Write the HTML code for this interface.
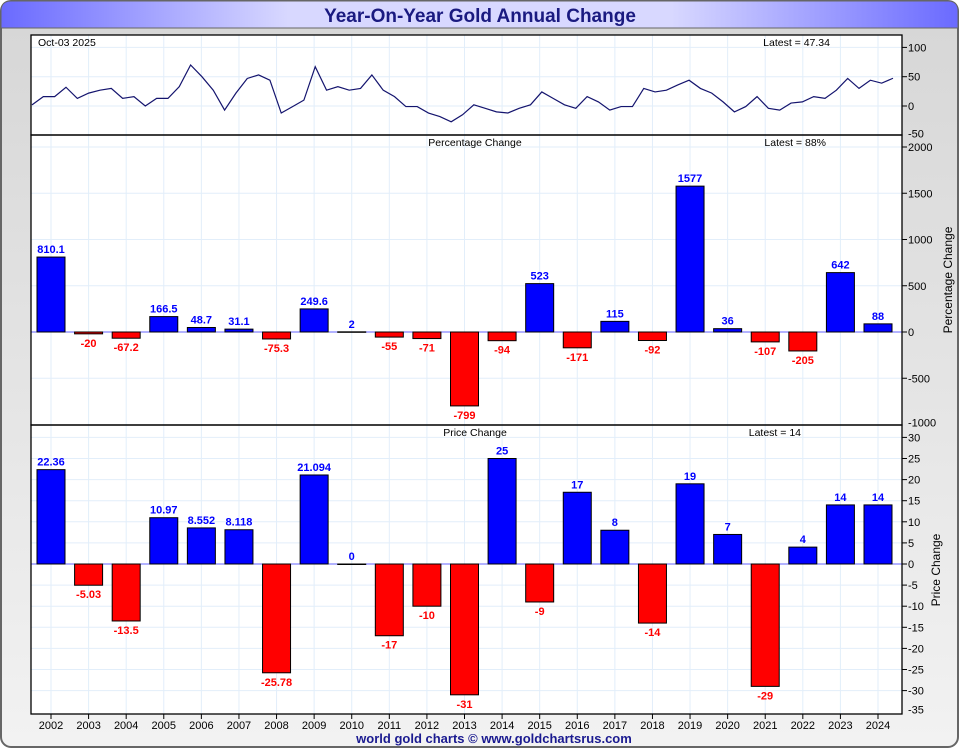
<!DOCTYPE html>
<html><head><meta charset="utf-8"><style>
body{margin:0;width:960px;height:750px;overflow:hidden;background:#fff;font-family:"Liberation Sans",sans-serif}
</style></head><body>
<svg id="c" width="960" height="750" xmlns="http://www.w3.org/2000/svg" font-family="Liberation Sans, sans-serif">
<defs><linearGradient id="tg" x1="0" x2="1"><stop offset="0" stop-color="#6a6aff"/><stop offset="0.3" stop-color="#d8d8ff"/><stop offset="0.7" stop-color="#d8d8ff"/><stop offset="1" stop-color="#6a6aff"/></linearGradient>
<linearGradient id="bg" x1="0" y1="0" x2="0" y2="1"><stop offset="0" stop-color="#d6d6d6"/><stop offset="1" stop-color="#f2f2f2"/></linearGradient></defs>
<rect x="1" y="1" width="957" height="746" rx="10" fill="url(#bg)" stroke="#666" stroke-width="2"/>
<path d="M1,28 L1,11 Q1,1 11,1 L948,1 Q958,1 958,11 L958,28 Z" fill="url(#tg)" stroke="#666"/>
<text x="480" y="22" text-anchor="middle" font-size="19" font-weight="bold" fill="#1a1a80">Year-On-Year Gold Annual Change</text>
<g id="g"></g>
<text x="494" y="743" text-anchor="middle" font-size="13" font-weight="bold" fill="#1a1a90">world gold charts © www.goldchartsrus.com</text>
</svg>
<script>
const years=["2002","2003","2004","2005","2006","2007","2008","2009","2010","2011","2012","2013","2014","2015","2016","2017","2018","2019","2020","2021","2022","2023","2024"];
const pctValues=[810.1,-20,-67.2,166.5,48.7,31.1,-75.3,249.6,2,-55,-71,-799,-94,523,-171,115,-92,1577,36,-107,-205,642,88];
const pctLabels=["810.1","-20","-67.2","166.5","48.7","31.1","-75.3","249.6","2","-55","-71","-799","-94","523","-171","115","-92","1577","36","-107","-205","642","88"];
const priceValues=[22.36,-5.03,-13.5,10.97,8.552,8.118,-25.78,21.094,0,-17,-10,-31,25,-9,17,8,-14,19,7,-29,4,14,14];
const priceLabels=["22.36","-5.03","-13.5","10.97","8.552","8.118","-25.78","21.094","0","-17","-10","-31","25","-9","17","8","-14","19","7","-29","4","14","14"];
const lineValues=[2,16,16,32,13,22,27,30,13,16,0,13,13,33,70,50,27,-7,22,47,53,44,-12,-1,10,67,27,33,27,30,53,27,16,-1,-1,-12,-18,-27,-15,2,-4,-10,-12,-4,2,24,13,2,-4,16,7,-7,-1,-1,30,24,27,36,44,30,22,7,-10,-1,16,-4,-7,5,7,16,13,27,47,30,44,39,47.34];
const topTicks=[100,50,0];
const pctTicks=[2000,1500,1000,500,0,-500];
const priceTicks=[30,25,20,15,10,5,0,-5,-10,-15,-20,-25,-30];

const NS="http://www.w3.org/2000/svg";
const g=document.getElementById('g');
function el(t,a,txt){const e=document.createElementNS(NS,t);for(const k in a)e.setAttribute(k,a[k]);if(txt!==undefined)e.textContent=txt;g.appendChild(e);return e;}
const X0=31,X1=902;
const xc=i=>51+i*(878-51)/(years.length-1);
const yTop=v=>106-v*29.3/50;
const yPct=v=>332-v*185/2000;
const yPrice=v=>564-v*21.1/5;

[[35,135,'top-panel'],[135,425,'percentage-panel'],[425,714,'price-panel']].forEach(p=>{
 const r=el('rect',{x:X0,y:p[0],width:X1-X0,height:p[1]-p[0],fill:'#fff'});
 
 
});
years.forEach((y,i)=>{
 const l=el('line',{x1:xc(i),x2:xc(i),y1:35,y2:714,stroke:'#e2eefa','stroke-width':1});
 
 
});
function hgrid(ticks,f,nm){ticks.forEach(t=>{
 const l=el('line',{x1:X0,x2:X1,y1:f(t),y2:f(t),stroke:'#e2eefa'});
 
 
 const k=el('line',{x1:X1,x2:X1+5,y1:f(t),y2:f(t),stroke:'#000'});
 
 
 const tx=el('text',{x:X1+6,y:f(t)+4,'font-size':11,fill:'#000'},String(t));
 
 
});}
hgrid(topTicks,yTop,'top-y');
hgrid(pctTicks,yPct,'pct-y');
hgrid(priceTicks,yPrice,'price-y');
[[-50,yTop(-50)],[-1000,yPct(-1000)],[-35,yPrice(-35)]].forEach(p=>{
 const tx=el('text',{x:X1+6,y:p[1]+2,'font-size':11,fill:'#000'},String(p[0]));
 
 
});
const zl1=el('line',{x1:X0,x2:X1,y1:yPct(0),y2:yPct(0),stroke:'#6666ff'});


const zl2=el('line',{x1:X0,x2:X1,y1:yPrice(0),y2:yPrice(0),stroke:'#6666ff'});



const n=lineValues.length;
const lx=i=>32+i*(893-32)/(n-1);
const pl=el('polyline',{points:lineValues.map((v,i)=>lx(i)+','+yTop(v)).join(' '),fill:'none',stroke:'#14146e','stroke-width':1.2});



function bars(vals,labels,f,nm){vals.forEach((v,i)=>{
 const y0=f(0),y1=f(v),pos=v>=0;
 const r=el('rect',{x:xc(i)-14,y:Math.min(y0,y1),width:28,height:Math.max(Math.abs(y1-y0),0.5),fill:pos?'#0000ff':'#ff0000',stroke:'#000','stroke-width':1});
 
 
 const t=el('text',{x:xc(i),y:pos?y1-4:y1+13,'text-anchor':'middle','font-size':11,'font-weight':'bold',fill:pos?'#0000ff':'#ff0000'},labels[i]);
 
 
});}
bars(pctValues,pctLabels,yPct,'pct');
bars(priceValues,priceLabels,yPrice,'price');

[[35,135],[135,425],[425,714]].forEach(p=>{
 const r=el('rect',{x:X0,y:p[0],width:X1-X0,height:p[1]-p[0],fill:'none',stroke:'#000','stroke-width':1.3});
 
 
});
years.forEach((y,i)=>{
 const k=el('line',{x1:xc(i),x2:xc(i),y1:714,y2:719,stroke:'#000'});
 
 
 const t=el('text',{x:xc(i),y:729,'text-anchor':'middle','font-size':11,fill:'#000'},y);
 
 
});
[[38,46,'start','Oct-03  2025','date-label'],[830,46,'end','Latest = 47.34','top-latest-label'],[475,146,'middle','Percentage Change','pct-panel-title'],[826,146,'end','Latest = 88%','pct-latest-label'],[475,436,'middle','Price Change','price-panel-title'],[801,436,'end','Latest = 14','price-latest-label']].forEach(a=>{
 const t=el('text',{x:a[0],y:a[1],'text-anchor':a[2],'font-size':10.5,fill:'#000'},a[3]);
 
 
});
const t1=el('text',{x:952,y:280,'text-anchor':'middle','font-size':12,fill:'#000',transform:'rotate(-90 952 280)'},'Percentage Change');


const t2=el('text',{x:940,y:570,'text-anchor':'middle','font-size':12,fill:'#000',transform:'rotate(-90 940 570)'},'Price Change');


</script>
</body></html>
